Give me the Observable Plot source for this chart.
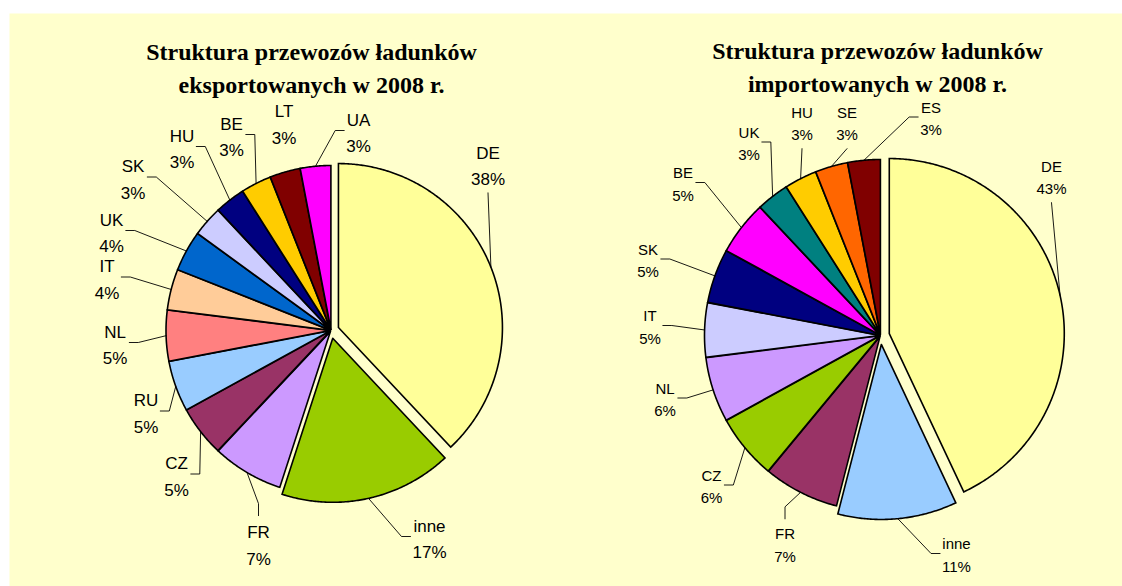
<!DOCTYPE html>
<html>
<head>
<meta charset="utf-8">
<script src="https://cdn.jsdelivr.net/npm/d3@7"></script>
<script src="https://cdn.jsdelivr.net/npm/@observablehq/plot@0.6"></script>
<style>
  html, body { margin: 0; padding: 0; background: #ffffff; }
  #chart { width: 1122px; height: 586px; }
</style>
</head>
<body>
<div id="chart"></div>
<script>
// ---------------- DATA ----------------
const exportTitle = "Struktura przewozów ładunków\neksportowanych w 2008 r.";
const exportCountries = ["DE", "inne", "FR", "CZ", "RU", "NL", "IT", "UK", "SK", "HU", "BE", "LT", "UA"];
const exportShares    = [38, 17, 7, 5, 5, 5, 4, 4, 3, 3, 3, 3, 3];

const importTitle = "Struktura przewozów ładunków\nimportowanych w 2008 r.";
const importCountries = ["DE", "inne", "FR", "CZ", "NL", "IT", "SK", "BE", "UK", "HU", "SE", "ES"];
const importShares    = [43, 11, 7, 6, 6, 5, 5, 5, 3, 3, 3, 3];

// ---------------- STYLES ----------------
const exportColors = ["#FFFF99", "#99CC00", "#CC99FF", "#993366", "#99CCFF", "#FF8080",
                      "#FFCC99", "#0066CC", "#CCCCFF", "#000080", "#FFCC00", "#800000", "#FF00FF"];
const importColors = ["#FFFF99", "#99CCFF", "#993366", "#99CC00", "#CC99FF", "#CCCCFF",
                      "#000080", "#FF00FF", "#008080", "#FFCC00", "#FF6600", "#800000"];
const background = "#FFFFCC";
const labelFont = "'Liberation Sans', Arial, sans-serif";
const titleFont = "'Liberation Serif', 'Times New Roman', serif";

// ---------------- LAYOUT ----------------
const W = 1122, H = 586;
const exportLayout = {
  cx: 330.5, cy: 330, r: 164, bigExplode: 8, smallExplode: 1,
  fontSize: 17, lineH: 26.5, titleX: 311, titleY: 65,
  labels: {
    DE: [487.5, 163, "bottom"], inne: [429, 536, "left"], FR: [258, 542.5, "top"],
    CZ: [176, 473.5, "right"], RU: [145.5, 410.5, "right"], NL: [114.5, 342, "right"],
    IT: [106.5, 276.5, "right"], UK: [111, 230, "right"], SK: [132.5, 176.5, "right"],
    HU: [181.5, 146, "right"], BE: [231, 134, "right"], LT: [283.5, 121.5, "none"],
    UA: [358, 130, "left"]
  }
};
const importLayout = {
  cx: 880, cy: 335, r: 175, bigExplode: 9, smallExplode: 1,
  fontSize: 15, lineH: 22.5, titleX: 877, titleY: 64,
  labels: {
    DE: [1051, 175.5, "bottom"], inne: [956, 553, "left"], FR: [784.5, 543, "top"],
    CZ: [711, 484.5, "right"], NL: [664.5, 397.5, "right"], IT: [649.5, 325, "right"],
    SK: [647.5, 258.5, "right"], BE: [682.5, 182, "right"], UK: [748.5, 141.5, "right"],
    HU: [801.5, 121.5, "bottom"], SE: [846.5, 121.5, "bottom"], ES: [930.5, 116.5, "left"]
  }
};

// ---------------- GEOMETRY (computed from data) ----------------
const ctx = document.createElement("canvas").getContext("2d");
function textWidth(s, fs) { ctx.font = `${fs}px ${labelFont}`; return ctx.measureText(s).width; }

function buildPie(pid, names, shares, colors, L) {
  const total = d3.sum(shares);
  const slices = [], leaders = [], labels = [];
  let cum = 0;
  names.forEach((name, i) => {
    const a0 = cum / total * 2 * Math.PI;
    cum += shares[i];
    const a1 = cum / total * 2 * Math.PI;
    const m = (a0 + a1) / 2;
    const e = (name === "DE" || name === "inne") ? L.bigExplode : L.smallExplode;
    const ox = L.cx + e * Math.sin(m), oy = L.cy - e * Math.cos(m);
    const key = pid + "-" + name;
    slices.push({key, color: colors[i], x: ox, y: oy});
    const steps = Math.max(2, Math.ceil((a1 - a0) / (Math.PI / 360)));
    for (let k = 0; k <= steps; k++) {
      const a = a0 + (a1 - a0) * k / steps;
      slices.push({key, color: colors[i], x: ox + L.r * Math.sin(a), y: oy - L.r * Math.cos(a)});
    }
    slices.push({key, color: colors[i], x: ox, y: oy});

    const [lx, ly, side] = L.labels[name];
    const pct = shares[i] + "%";
    labels.push({x: lx, y: ly, text: name + "\n" + pct});
    const arcX = ox + L.r * Math.sin(m), arcY = oy - L.r * Math.cos(m);
    const hw = Math.max(textWidth(name, L.fontSize), textWidth(pct, L.fontSize)) / 2;
    const hh = L.lineH / 2 + 0.36 * L.fontSize;
    let pts = null;
    if (side === "right") pts = [[lx + hw + 2, ly], [lx + hw + 11, ly]];
    else if (side === "left") pts = [[lx - hw - 2, ly], [lx - hw - 11, ly]];
    else if (side === "bottom") pts = [[lx, ly + hh + 10]];
    else if (side === "top") pts = [[lx, ly - hh - 8], [lx, ly - hh - 20]];
    if (pts) {
      pts.push([arcX, arcY]);
      pts.forEach(([x, y]) => leaders.push({key, x, y}));
    }
  });
  return {slices, leaders, labels};
}

const exp = buildPie("exp", exportCountries, exportShares, exportColors, exportLayout);
const imp = buildPie("imp", importCountries, importShares, importColors, importLayout);
const titles = [
  {x: exportLayout.titleX, y: exportLayout.titleY, text: exportTitle},
  {x: importLayout.titleX, y: importLayout.titleY, text: importTitle}
];

const chart = Plot.plot({
  width: W, height: H,
  marginLeft: 9, marginTop: 13, marginRight: 0, marginBottom: 0,
  x: {domain: [9, W], axis: null},
  y: {domain: [13, H], range: [13, H], axis: null},
  color: {type: "identity"},
  style: {background: "#ffffff", overflow: "visible"},
  marks: [
    Plot.frame({fill: background, stroke: "none"}),
    Plot.line([...exp.slices, ...imp.slices], {
      x: "x", y: "y", z: "key", fill: "color", stroke: "#000000",
      strokeWidth: 1.6, strokeLinejoin: "miter", strokeMiterlimit: 4, curve: "linear"
    }),
    Plot.line([...exp.leaders, ...imp.leaders], {
      x: "x", y: "y", z: "key", stroke: "#000000", strokeWidth: 0.9,
      strokeLinejoin: "miter", curve: "linear"
    }),
    Plot.text(exp.labels, {
      x: "x", y: "y", text: "text", fontSize: exportLayout.fontSize,
      lineHeight: exportLayout.lineH / exportLayout.fontSize,
      fontFamily: labelFont, fill: "#000000", textAnchor: "middle", lineAnchor: "middle"
    }),
    Plot.text(imp.labels, {
      x: "x", y: "y", text: "text", fontSize: importLayout.fontSize,
      lineHeight: importLayout.lineH / importLayout.fontSize,
      fontFamily: labelFont, fill: "#000000", textAnchor: "middle", lineAnchor: "middle"
    }),
    Plot.text(titles, {
      x: "x", y: "y", text: "text", fontSize: 24, lineHeight: 33 / 24,
      fontFamily: titleFont, fontWeight: "bold", fill: "#000000",
      textAnchor: "middle", lineAnchor: "middle"
    })
  ]
});
document.getElementById("chart").appendChild(chart);
</script>
</body>
</html>
